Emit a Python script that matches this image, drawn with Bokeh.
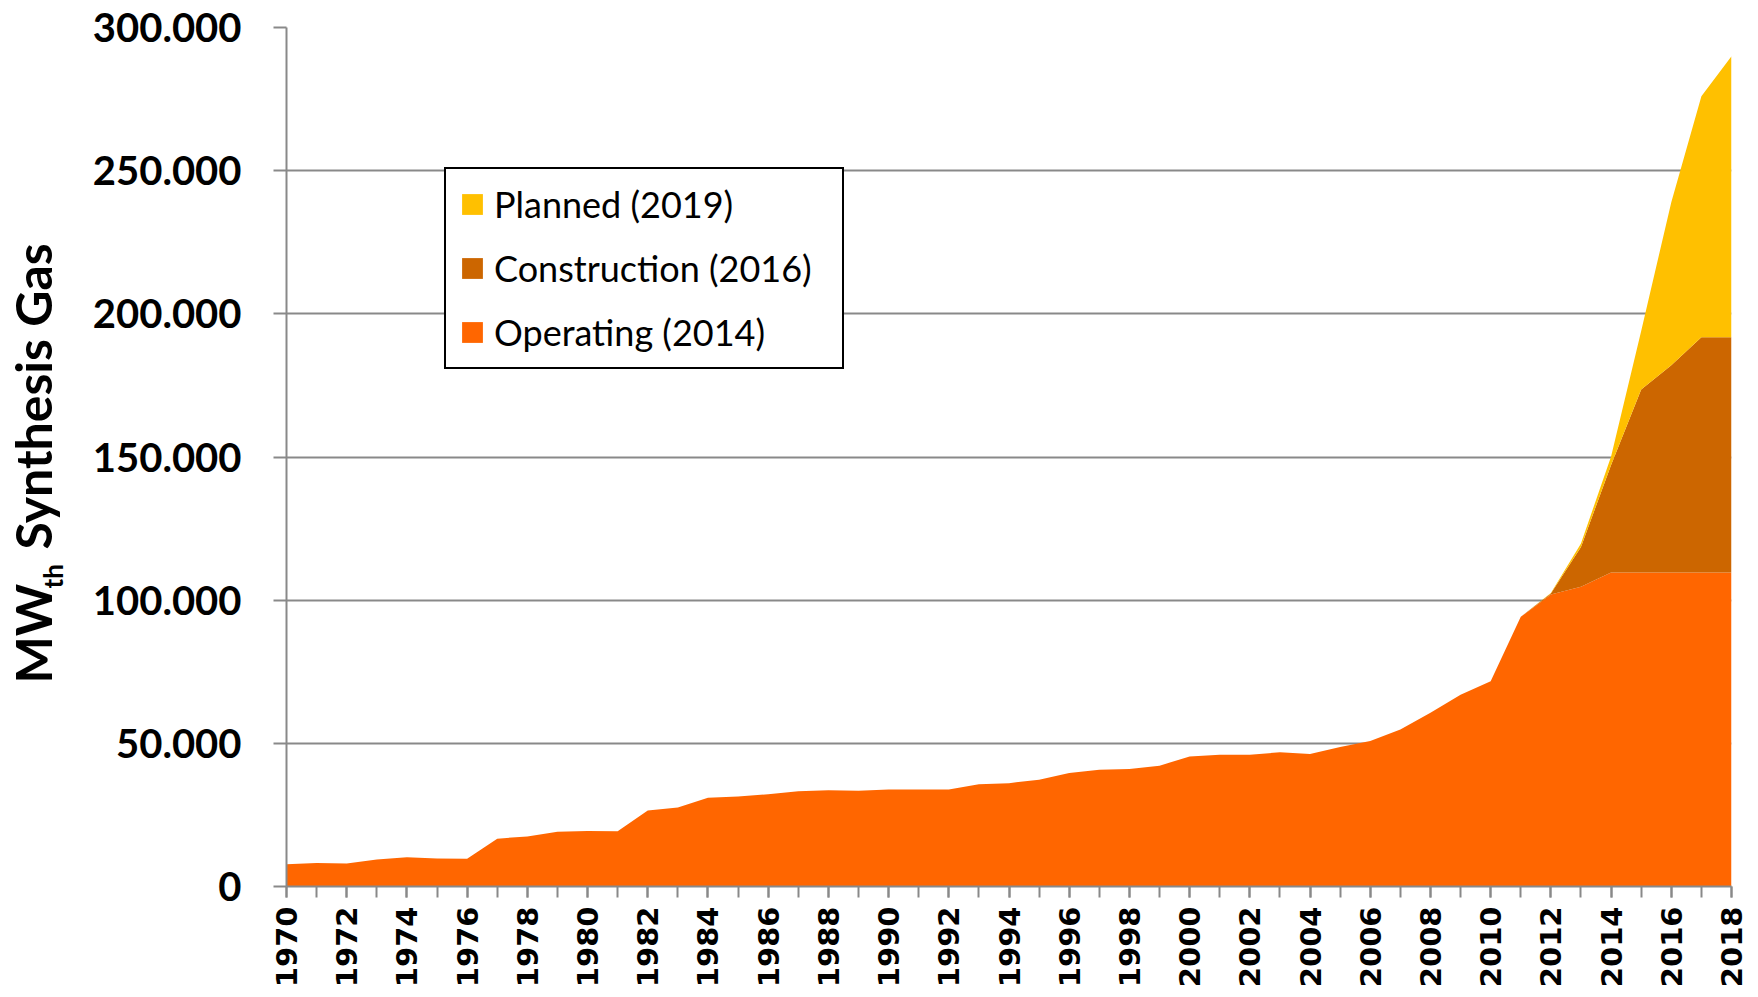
import math
from bokeh.plotting import figure
from bokeh.layouts import row
from bokeh.models import (ColumnDataSource, FixedTicker, Legend, LegendItem, Range1d)
from bokeh.core.properties import value
from bokeh.embed import file_html
from bokeh.resources import INLINE

# ---------------- data ----------------
years = list(range(1970, 2019))

operating = [
    7800, 8200, 8000, 9400, 10200, 9800, 9700, 16700, 17500, 19100,
    19400, 19300, 26500, 27600, 31000, 31400, 32200, 33300, 33600, 33400,
    33900, 33900, 33900, 35700, 36100, 37300, 39600, 40800, 41000, 42200,
    45400, 46000, 46000, 46900, 46300, 48700, 50800, 54800, 60700, 67000,
    71700, 94200, 102000, 104700, 109700, 109700, 109700, 109700, 109700,
]
construction = [0] * 42 + [300, 13900, 37500, 63900, 72300, 82100, 82100]
planned = [0] * 42 + [200, 1200, 3000, 20400, 57000, 84200, 98200]

series_names = ["Operating (2014)", "Construction (2016)", "Planned (2019)"]
series_colors = ["#FF6600", "#CC6600", "#FFC000"]

y_ticks = [0, 50000, 100000, 150000, 200000, 250000, 300000]
y_tick_labels = ["0", "50.000", "100.000", "150.000", "200.000", "250.000", "300.000"]
x_major_ticks = list(range(1970, 2019, 2))

title_main = "MW"
title_sub = "th"
title_rest = "Synthesis Gas"

# ---------------- layout sizes ----------------
H = 995
TW = 80            # width of the narrow title strip
W = 1750 - TW      # main figure width
FT, FB = 27, 886   # frame top / bottom (pixels from top)

# ---------------- title strip (pixel coordinates, y measured from bottom) ----------------
t = figure(width=TW, height=H, output_backend="svg", toolbar_location=None,
           x_range=Range1d(0, TW), y_range=Range1d(H - FB, H - FT),
           x_axis_type=None, y_axis_type=None,
           min_border_left=0, min_border_right=0,
           min_border_top=FT, min_border_bottom=H - FB)
t.outline_line_color = None
t.xgrid.visible = False
t.ygrid.visible = False
tcommon = dict(angle=math.pi / 2, text_font=value("Lato"), text_font_style="bold",
               text_color="black", text_align="left", text_baseline="alphabetic")
t.text(x=[32], y=[H - 683], text=[title_main], text_font_size="50px", **tcommon)
t.text(x=[52], y=[H - 588], text=[title_sub], text_font_size="26px", **tcommon)
t.text(x=[32], y=[H - 549], text=[title_rest], text_font_size="50px", **tcommon)

# ---------------- main figure ----------------
p = figure(width=W, height=H, output_backend="svg", toolbar_location=None,
           x_range=Range1d(1970, 2018), y_range=Range1d(0, 300000),
           min_border_left=286 - TW, min_border_right=19, min_border_top=FT,
           min_border_bottom=H - FB)
p.outline_line_color = None
p.background_fill_color = "white"
p.border_fill_color = "white"

src = ColumnDataSource(dict(year=years, op=operating, con=construction, plan=planned))
rends = p.varea_stack(["op", "con", "plan"], x="year", color=series_colors, source=src)

GRAY = "#898989"

p.xgrid.visible = False
p.ygrid.grid_line_color = GRAY
p.ygrid.grid_line_width = 2
p.ygrid.ticker = FixedTicker(ticks=y_ticks)

# y axis
p.yaxis.ticker = FixedTicker(ticks=y_ticks)
p.yaxis.major_label_overrides = {tk: lb for tk, lb in zip(y_ticks, y_tick_labels)}
p.yaxis.axis_line_color = GRAY
p.yaxis.axis_line_width = 2
p.yaxis.major_tick_line_color = GRAY
p.yaxis.major_tick_line_width = 2
p.yaxis.major_tick_out = 13
p.yaxis.major_tick_in = 0
p.yaxis.minor_tick_line_color = None
p.yaxis.major_label_text_font = "Lato"
p.yaxis.major_label_text_font_style = "bold"
p.yaxis.major_label_text_font_size = "40px"
p.yaxis.major_label_text_color = "black"
p.yaxis.major_label_standoff = 32

# x axis
p.xaxis.ticker = FixedTicker(ticks=x_major_ticks, minor_ticks=years)
p.xaxis.axis_line_color = GRAY
p.xaxis.axis_line_width = 2
p.xaxis.major_tick_line_color = GRAY
p.xaxis.major_tick_line_width = 2
p.xaxis.minor_tick_line_color = GRAY
p.xaxis.minor_tick_line_width = 2
p.xaxis.major_tick_out = 11
p.xaxis.major_tick_in = 0
p.xaxis.minor_tick_out = 11
p.xaxis.minor_tick_in = 0
p.xaxis.major_label_orientation = math.pi / 2
p.xaxis.major_label_text_font = "DejaVu Sans"
p.xaxis.major_label_text_font_style = "bold"
p.xaxis.major_label_text_font_size = "29px"
p.xaxis.major_label_text_color = "black"
p.xaxis.major_label_standoff = 9

# legend
items = [LegendItem(label=series_names[i], renderers=[rends[i]]) for i in (2, 1, 0)]
legend = Legend(items=items, location=(158, 517))
legend.label_text_font = "Lato"
legend.label_text_font_size = "36px"
legend.label_text_color = "black"
legend.glyph_width = 26
legend.glyph_height = 26
legend.label_height = 44
legend.label_standoff = 9
legend.spacing = 20
legend.padding = 13
legend.margin = 0
legend.label_width = 335
legend.border_line_color = "black"
legend.border_line_alpha = 1.0
legend.border_line_width = 2
legend.background_fill_color = "white"
legend.background_fill_alpha = 1.0
p.add_layout(legend, "center")

layout = row(t, p, spacing=0)
open("out.html", "w").write(file_html(layout, INLINE))
